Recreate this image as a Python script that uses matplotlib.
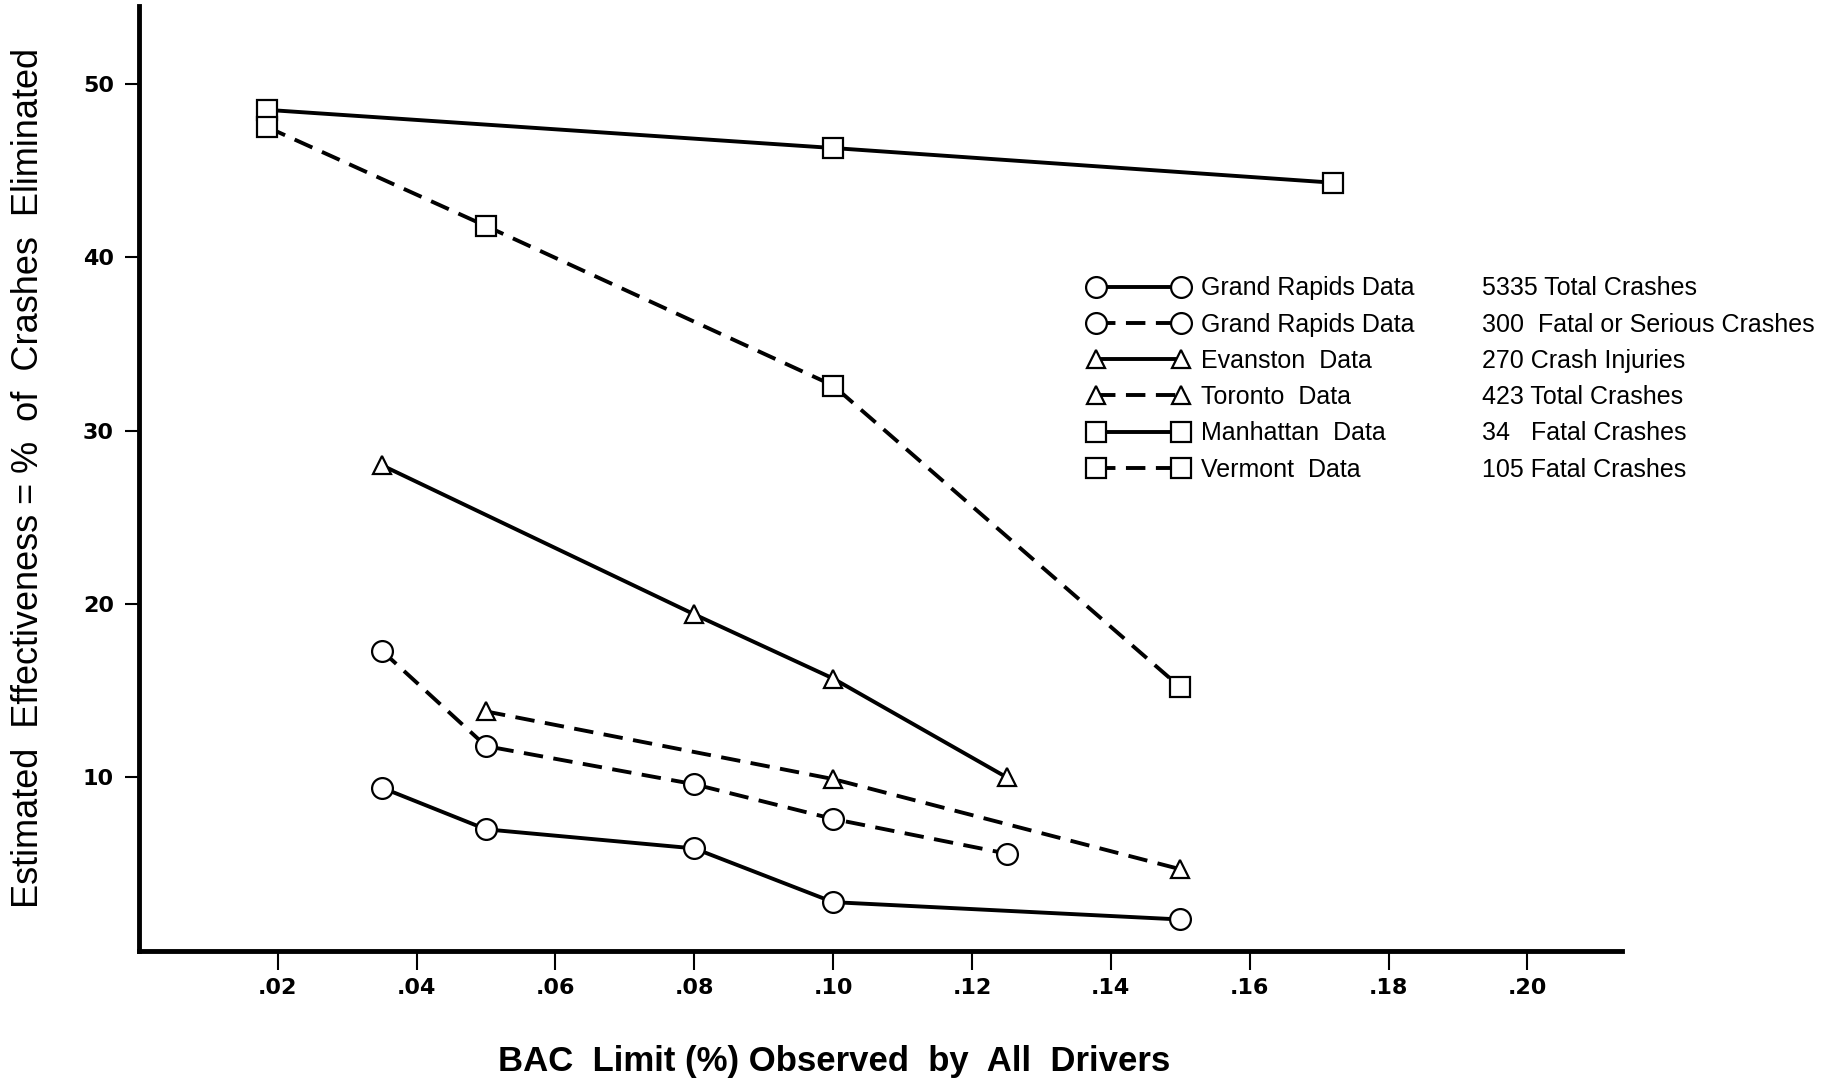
import matplotlib.pyplot as plt
from matplotlib.lines import Line2D

plt.rcParams['font.family'] = ['Liberation Sans', 'DejaVu Sans']

# BAC limit (x) and % crashes eliminated (y) per study
gr_total_x = [0.035, 0.05, 0.08, 0.10, 0.15]
gr_total_y = [9.4, 7.0, 5.9, 2.8, 1.8]
gr_fatal_x = [0.035, 0.05, 0.08, 0.10, 0.125]
gr_fatal_y = [17.3, 11.8, 9.6, 7.6, 5.6]
evanston_x = [0.035, 0.08, 0.10, 0.125]
evanston_y = [28.0, 19.4, 15.7, 10.0]
toronto_x = [0.05, 0.10, 0.15]
toronto_y = [13.8, 9.9, 4.7]
manhattan_x = [0.0185, 0.10, 0.172]
manhattan_y = [48.5, 46.3, 44.3]
vermont_x = [0.0185, 0.05, 0.10, 0.15]
vermont_y = [47.5, 41.8, 32.6, 15.2]

names = ['Grand Rapids Data', 'Grand Rapids Data', 'Evanston  Data',
         'Toronto  Data', 'Manhattan  Data', 'Vermont  Data']
counts = ['5335 Total Crashes', '300  Fatal or Serious Crashes',
          '270 Crash Injuries', '423 Total Crashes', '34   Fatal Crashes',
          '105 Fatal Crashes']
xticks = [0.02, 0.04, 0.06, 0.08, 0.10, 0.12, 0.14, 0.16, 0.18, 0.20]
yticks = [10, 20, 30, 40, 50]

fig = plt.figure(figsize=(18.45, 10.86), dpi=100)
ax = fig.add_axes([0.0753, 0.1246, 0.8037, 0.87])

dash = (0, (5, 2.7))
common = dict(color='black', lw=2.8, mfc='white', mec='black', mew=1.6)
series = [
    (gr_total_x, gr_total_y, 'o', '-', 15),
    (gr_fatal_x, gr_fatal_y, 'o', dash, 15),
    (evanston_x, evanston_y, '^', '-', 13),
    (toronto_x, toronto_y, '^', dash, 13),
    (manhattan_x, manhattan_y, 's', '-', 15),
    (vermont_x, vermont_y, 's', dash, 15),
]
handles = []
for x, y, m, ls, ms in series:
    ax.plot(x, y, marker=m, ls=ls, ms=ms, **common)
    handles.append(Line2D([], [], marker=m, ls=ls, ms=ms, **common))

leg1 = ax.legend(handles, names, loc='upper left', bbox_to_anchor=(0.632, 0.727),
                 frameon=False, fontsize=18, handlelength=4.0, handletextpad=0.5,
                 labelspacing=0.49, numpoints=2, borderpad=0)
ax.add_artist(leg1)
blank = [Line2D([], [], ls='none') for _ in counts]
ax.legend(blank, counts, loc='upper left', bbox_to_anchor=(0.897, 0.727),
          frameon=False, fontsize=18, handlelength=0, handletextpad=0,
          labelspacing=0.49, borderpad=0)

ax.set_xlim(0, 0.2136)
ax.set_ylim(0, 54.5)
ax.set_xticks(xticks)
ax.set_xticklabels(['.%02d' % round(v * 100) for v in xticks])
ax.set_yticks(yticks)
for s in ['top', 'right']:
    ax.spines[s].set_visible(False)
for s in ['left', 'bottom']:
    ax.spines[s].set_linewidth(3.5)
ax.tick_params(axis='x', length=14, width=1.5, direction='out', pad=6, labelsize=16)
ax.tick_params(axis='y', length=10, width=1.5, direction='out', pad=8, labelsize=16)
for lab in ax.get_xticklabels() + ax.get_yticklabels():
    lab.set_fontweight('bold')
    lab.set_family('DejaVu Sans')

ax.set_xlabel('BAC  Limit (%) Observed  by  All  Drivers', fontsize=25,
              fontweight='bold')
ax.xaxis.set_label_coords(0.469, -0.1)
ax.set_ylabel('Estimated  Effectiveness = %  of  Crashes  Eliminated', fontsize=26)
ax.yaxis.set_label_coords(-0.063, 0.5)

fig.savefig('out.png', dpi=100)
